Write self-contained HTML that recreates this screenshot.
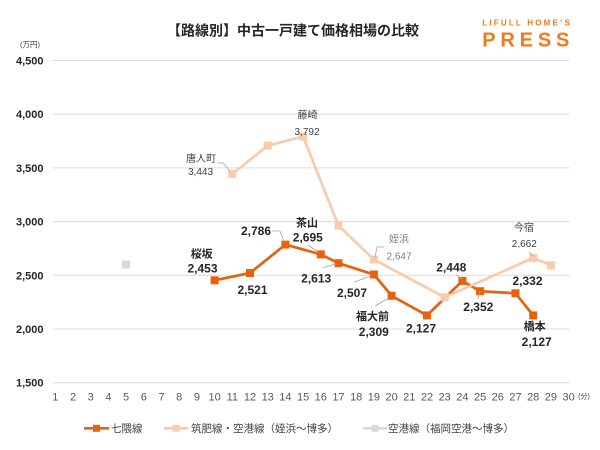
<!DOCTYPE html>
<html><head><meta charset="utf-8"><style>
html,body{margin:0;padding:0;background:#fff;}
svg{display:block;}
text{font-family:"Liberation Sans","Noto Sans CJK JP",sans-serif;}
</style></head><body>
<svg width="600" height="450" viewBox="0 0 600 450" xmlns="http://www.w3.org/2000/svg">
<rect width="600" height="450" fill="#fff"/>
<!-- title -->
<text x="293" y="35.5" font-size="14" font-weight="bold" fill="#262626" text-anchor="middle">【路線別】中古一戸建て価格相場の比較</text>
<!-- logo -->
<text x="482.3" y="25.7" font-size="8" font-weight="bold" fill="#F0781E" textLength="87.5" lengthAdjust="spacing">LIFULL HOME’S</text>
<text x="482.3" y="46.7" font-size="20" font-weight="bold" fill="#F0781E" textLength="87" lengthAdjust="spacing">PRESS</text>
<!-- unit -->
<text x="30" y="47" font-size="7.5" fill="#404040" text-anchor="middle">(万円)</text>
<!-- gridlines -->
<g stroke="#dcdcdc" stroke-width="1">
<line x1="53" y1="60.5" x2="569.5" y2="60.5"/>
<line x1="53" y1="114.2" x2="569.5" y2="114.2"/>
<line x1="53" y1="167.9" x2="569.5" y2="167.9"/>
<line x1="53" y1="221.6" x2="569.5" y2="221.6"/>
<line x1="53" y1="275.3" x2="569.5" y2="275.3"/>
<line x1="53" y1="329" x2="569.5" y2="329"/>
<line x1="53" y1="382.7" x2="569.5" y2="382.7"/>
</g>
<!-- y labels -->
<g font-size="11" font-weight="bold" fill="#262626" text-anchor="end">
<text x="43.5" y="64.5">4,500</text>
<text x="43.5" y="118.2">4,000</text>
<text x="43.5" y="171.9">3,500</text>
<text x="43.5" y="225.6">3,000</text>
<text x="43.5" y="279.3">2,500</text>
<text x="43.5" y="333">2,000</text>
<text x="43.5" y="386.7">1,500</text>
</g>
<!-- x labels -->
<g font-size="11" fill="#595959" text-anchor="middle">
<text x="55.3" y="400.5">1</text><text x="73" y="400.5">2</text><text x="90.7" y="400.5">3</text><text x="108.4" y="400.5">4</text><text x="126.1" y="400.5">5</text><text x="143.8" y="400.5">6</text><text x="161.5" y="400.5">7</text><text x="179.2" y="400.5">8</text><text x="196.9" y="400.5">9</text><text x="214.6" y="400.5">10</text><text x="232.3" y="400.5">11</text><text x="250" y="400.5">12</text><text x="267.7" y="400.5">13</text><text x="285.4" y="400.5">14</text><text x="303.1" y="400.5">15</text><text x="320.8" y="400.5">16</text><text x="338.5" y="400.5">17</text><text x="356.2" y="400.5">18</text><text x="373.9" y="400.5">19</text><text x="391.6" y="400.5">20</text><text x="409.3" y="400.5">21</text><text x="427" y="400.5">22</text><text x="444.7" y="400.5">23</text><text x="462.4" y="400.5">24</text><text x="480.1" y="400.5">25</text><text x="497.8" y="400.5">26</text><text x="515.5" y="400.5">27</text><text x="533.2" y="400.5">28</text><text x="550.9" y="400.5">29</text><text x="568.6" y="400.5">30</text>
</g>
<text x="584" y="398.5" font-size="7" fill="#404040" text-anchor="middle">(分)</text>
<!-- gray series -->
<rect x="122.1" y="260.6" width="8" height="8" fill="#D9D9D9"/>
<!-- dark series -->
<polyline fill="none" stroke="#E8620E" stroke-width="2.7" stroke-linejoin="round" points="214.6,280.3 250,273 285.4,244.6 320.8,254.4 338.5,263.2 373.9,274.5 391.6,295.8 427,315.4 462.4,280.9 480.1,291.2 515.5,293.3 533.2,315.4"/>
<g fill="#E8620E">
<rect x="210.6" y="276.3" width="8" height="8"/>
<rect x="246" y="269" width="8" height="8"/>
<rect x="281.4" y="240.6" width="8" height="8"/>
<rect x="316.8" y="250.4" width="8" height="8"/>
<rect x="334.5" y="259.2" width="8" height="8"/>
<rect x="369.9" y="270.5" width="8" height="8"/>
<rect x="387.6" y="291.8" width="8" height="8"/>
<rect x="423" y="311.4" width="8" height="8"/>
<rect x="458.4" y="276.9" width="8" height="8"/>
<rect x="476.1" y="287.2" width="8" height="8"/>
<rect x="511.5" y="289.3" width="8" height="8"/>
<rect x="529.2" y="311.4" width="8" height="8"/>
</g>
<!-- light series -->
<polyline fill="none" stroke="#F8CBAD" stroke-width="2.7" stroke-linejoin="round" points="232.3,174 267.7,145.7 303.1,136.5 338.5,225.6 373.9,259.5 444.7,297.3 533.2,257.9 550.9,265.2"/>
<g fill="#F8CBAD">
<rect x="228.3" y="170" width="8" height="8"/>
<rect x="263.7" y="141.7" width="8" height="8"/>
<rect x="299.1" y="132.5" width="8" height="8"/>
<rect x="334.5" y="221.6" width="8" height="8"/>
<rect x="369.9" y="255.5" width="8" height="8"/>
<rect x="440.7" y="293.3" width="8" height="8"/>
<rect x="529.2" y="253.9" width="8" height="8"/>
<rect x="546.9" y="261.2" width="8" height="8"/>
</g>
<!-- leader lines -->
<g fill="none" stroke="#a6a6a6" stroke-width="0.8">
<polyline points="217,163 223,163 230,171"/>
<polyline points="272,231 280,231 284,242"/>
<polyline points="308,245 318,252"/>
<polyline points="322,268 336,264"/>
<polyline points="354,282 371,276"/>
<polyline points="375,257 377,247 384,247"/>
<polyline points="375,306 389,298"/>
<polyline points="456,275 462,279"/>
<polyline points="478,299 480,291"/>
<polyline points="529,252 533,256"/>
</g>
<!-- light labels -->
<g font-size="10" fill="#404040" text-anchor="middle">
<text x="201" y="161.8">唐人町</text>
<text x="200.5" y="175.2">3,443</text>
<text x="307.5" y="118.5">藤崎</text>
<text x="307" y="135.2">3,792</text>
<text x="524" y="231.2">今宿</text>
<text x="524.3" y="246.8">2,662</text>
</g>
<g font-size="10" fill="#808080" text-anchor="middle">
<text x="399" y="242.5">姪浜</text>
<text x="399" y="259.5">2,647</text>
</g>
<!-- dark labels -->
<g font-size="11" font-weight="bold" fill="#262626" text-anchor="middle">
<text x="201.7" y="257.3">桜坂</text>
<text x="307" y="226.7">茶山</text>
<text x="372.5" y="320">福大前</text>
<text x="534.7" y="330">橋本</text>
</g>
<g font-size="12" font-weight="bold" fill="#262626" text-anchor="middle">
<text x="202.5" y="272.5">2,453</text>
<text x="252.5" y="294.2">2,521</text>
<text x="256" y="235.2">2,786</text>
<text x="307.8" y="241.5">2,695</text>
<text x="316.2" y="282.5">2,613</text>
<text x="352" y="296.9">2,507</text>
<text x="373.8" y="335.9">2,309</text>
<text x="421" y="332.5">2,127</text>
<text x="451.3" y="271.5">2,448</text>
<text x="478.3" y="310.9">2,352</text>
<text x="527.5" y="285.2">2,332</text>
<text x="536.7" y="345.9">2,127</text>
</g>
<!-- legend -->
<line x1="84" y1="428.3" x2="109" y2="428.3" stroke="#E8620E" stroke-width="2.7"/>
<rect x="93" y="424.8" width="7" height="7" fill="#E8620E"/>
<text x="111" y="432" font-size="10.5" fill="#404040">七隈線</text>
<line x1="164" y1="428.3" x2="188" y2="428.3" stroke="#F8CBAD" stroke-width="2.7"/>
<rect x="172.5" y="424.8" width="7" height="7" fill="#F8CBAD"/>
<text x="191" y="432" font-size="10.5" fill="#404040">筑肥線・空港線（姪浜〜博多）</text>
<line x1="363" y1="428.3" x2="387" y2="428.3" stroke="#D9D9D9" stroke-width="2.7"/>
<rect x="371.5" y="424.8" width="7" height="7" fill="#D9D9D9"/>
<text x="388" y="432" font-size="10.5" fill="#404040">空港線（福岡空港〜博多）</text>
</svg>
</body></html>
